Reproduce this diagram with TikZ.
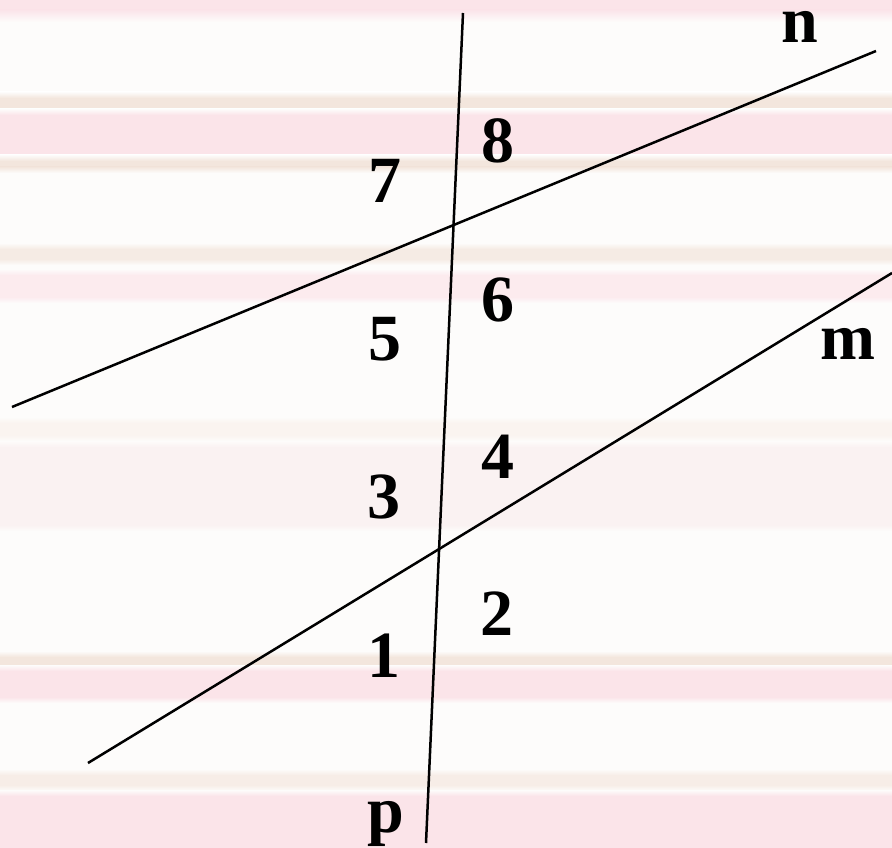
\documentclass[tikz,border=0pt]{standalone}
\usepackage{fontspec}
\setmainfont{Liberation Serif}
\definecolor{bgwhite}{RGB}{253,252,251}
\definecolor{stpink}{RGB}{251,228,233}
\definecolor{stbeige}{RGB}{243,230,221}
\definecolor{stfaint}{RGB}{250,242,242}
\tikzset{
  lbl/.style={font=\fontsize{66}{66}\selectfont\bfseries, anchor=base, inner sep=0pt},
  ln/.style={line width=2.5pt, black},
}
% soft stripe: #1 top, #2 bottom, #3 colour; edges fade over 5 units
\newcommand{\softstripe}[3]{%
  \shade[top color=bgwhite, bottom color=#3] (0,#1-5) rectangle (892,#1+1);
  \fill[#3] (0,#1+1) rectangle (892,#2-1);
  \shade[top color=#3, bottom color=bgwhite] (0,#2-1) rectangle (892,#2+5);}
\begin{document}
\begin{tikzpicture}[x=1pt,y=-1pt]
\useasboundingbox (0,0) rectangle (892,848);
% background stripes
\fill[bgwhite] (0,0) rectangle (892,848);
\fill[stpink] (0,0) rectangle (892,10);
\shade[top color=stpink, bottom color=bgwhite] (0,10) rectangle (892,22);
\softstripe{97}{110}{stbeige}
\softstripe{114}{156}{stpink}
\softstripe{160}{168}{stbeige}
\softstripe{248}{260}{stbeige!80}
\softstripe{274}{298}{stpink!75}
\softstripe{422}{436}{stbeige!45}
\softstripe{446}{526}{stfaint}
\softstripe{656}{666}{stbeige}
\softstripe{670}{698}{stpink}
\softstripe{774}{786}{stbeige!70}
\softstripe{795}{843}{stpink}
\fill[stpink] (0,843) rectangle (892,848);
% line end points
\coordinate (pT) at (463,13);
\coordinate (pB) at (426,843);
\coordinate (nL) at (12,407);
\coordinate (nR) at (876,51);
\coordinate (mL) at (88,763);
\coordinate (mR) at (892,273);
\draw[ln] (pT) -- (pB);
\draw[ln] (nL) -- (nR);
\draw[ln] (mL) -- (mR);
% labels
\node[lbl, text height=32pt] (ln) at (800,43) {n};
\node[lbl] (lm) at (848,359) {m};
\node[lbl] (lp) at (386,832) {p};
\node[lbl] (l8) at (498,163) {8};
\node[lbl] (l7) at (385,203) {7};
\node[lbl] (l6) at (498,321) {6};
\node[lbl] (l5) at (385,360) {5};
\node[lbl] (l4) at (498,478) {4};
\node[lbl] (l3) at (384,518) {3};
\node[lbl] (l2) at (497,635) {2};
\node[lbl] (l1) at (384,677) {1};
\end{tikzpicture}
\end{document}
